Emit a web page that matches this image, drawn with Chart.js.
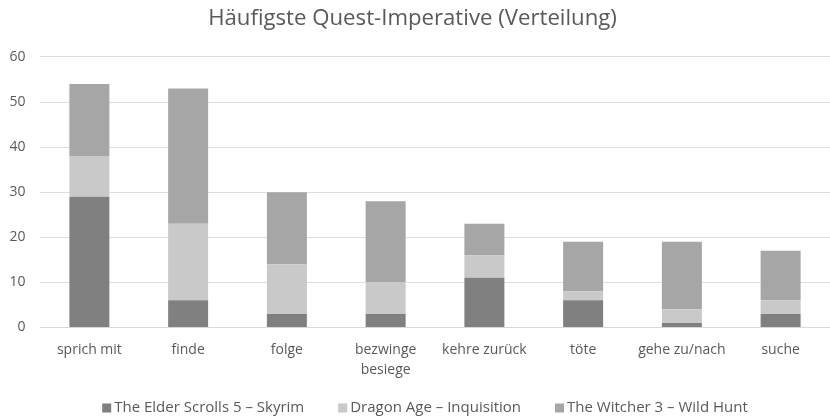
<!DOCTYPE html>
<html>
<head>
<meta charset="utf-8">
<script src="https://cdn.jsdelivr.net/npm/chart.js@4/dist/chart.umd.min.js"></script>
<style>
html,body{margin:0;padding:0;background:#fff;}
#wrap{width:830px;height:417px;}
</style>
</head>
<body>
<div id="wrap"><canvas id="c" width="830" height="417"></canvas></div>
<script>
const categories = ['sprich mit', 'finde', 'folge', ['bezwinge', 'besiege'], 'kehre zurück', 'töte', 'gehe zu/nach', 'suche'];
const skyrim = [29, 6, 3, 3, 11, 6, 1, 3];
const dragonAge = [9, 17, 11, 7, 5, 2, 3, 3];
const witcher = [16, 30, 16, 18, 7, 11, 15, 11];
const yTicks = [0, 10, 20, 30, 40, 50, 60];

const font = "'Open Sans', 'Noto Sans', sans-serif";
const textColor = '#595959';

// Custom bottom legend (Excel-like spacing)
const bottomLegend = {
  id: 'bottomLegend',
  afterDraw(chart) {
    const ctx = chart.ctx;
    const box = 9, gapText = 3, gapItem = 34;
    ctx.save();
    ctx.font = "15px " + font;
    ctx.textBaseline = 'middle';
    ctx.textAlign = 'left';
    const items = chart.data.datasets.map(ds => ({ label: ds.label, color: ds.backgroundColor, w: ctx.measureText(ds.label).width }));
    const total = items.reduce((s, it) => s + box + gapText + it.w, 0) + gapItem * (items.length - 1);
    let x = chart.width / 2 + 10 - total / 2;
    const y = 408;
    items.forEach(it => {
      ctx.fillStyle = it.color;
      ctx.fillRect(x, y - box / 2, box, box);
      ctx.fillStyle = textColor;
      ctx.fillText(it.label, x + box + gapText, y);
      x += box + gapText + it.w + gapItem;
    });
    ctx.restore();
  }
};

new Chart(document.getElementById('c'), {
  type: 'bar',
  data: {
    labels: categories,
    datasets: [
      { label: 'The Elder Scrolls 5 – Skyrim', data: skyrim, backgroundColor: '#808080' },
      { label: 'Dragon Age – Inquisition', data: dragonAge, backgroundColor: '#c9c9c9' },
      { label: 'The Witcher 3 – Wild Hunt', data: witcher, backgroundColor: '#a6a6a6' }
    ]
  },
  plugins: [bottomLegend],
  options: {
    responsive: false,
    animation: false,
    layout: { padding: { left: -5, right: 0, top: 0, bottom: 25 } },
    datasets: { bar: { categoryPercentage: 1.0, barPercentage: 0.405 } },
    plugins: {
      title: {
        display: true,
        text: 'Häufigste Quest-Imperative (Verteilung)',
        color: textColor,
        font: { family: font, size: 22.2, weight: 'normal' },
        padding: { top: 5, bottom: 25.3 }
      },
      legend: { display: false },
      tooltip: { enabled: false }
    },
    scales: {
      x: {
        stacked: true,
        grid: { display: false, drawTicks: false },
        border: { color: '#d9d9d9' },
        ticks: { color: textColor, font: { family: font, size: 14, lineHeight: 1.45 }, padding: 12, maxRotation: 0, autoSkip: false }
      },
      y: {
        stacked: true,
        min: 0,
        max: 60,
        afterBuildTicks: (ax) => { ax.ticks = yTicks.map(v => ({ value: v })); },
        grid: { color: '#dedede', drawTicks: false },
        border: { display: false },
        ticks: { color: textColor, font: { family: font, size: 14 }, padding: 14.5 }
      }
    }
  }
});
</script>
</body>
</html>
